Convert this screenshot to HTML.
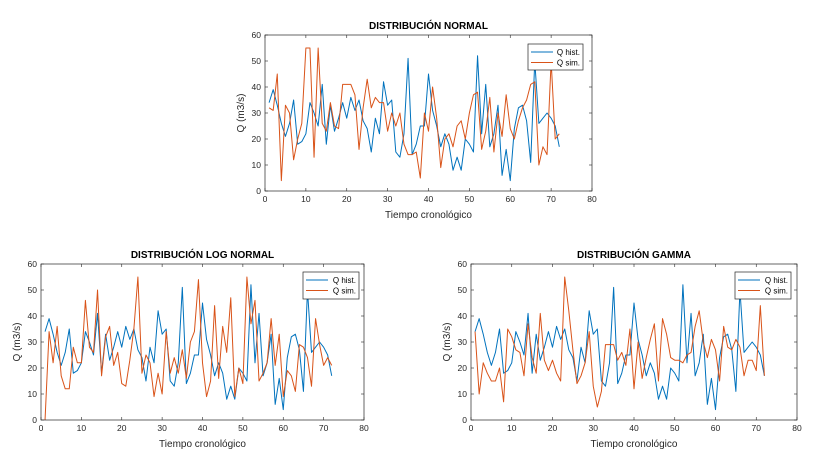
<!DOCTYPE html>
<html><head><meta charset="utf-8"><style>
html,body{margin:0;padding:0;background:#fff;}
svg{display:block;font-family:"Liberation Sans",sans-serif;}
</style></head><body>
<svg id="fig" width="815" height="472" viewBox="0 0 815 472"></svg>
<script>
const times = Array.from({length:72},(_,i)=>i+1);
const qHist = [34,39,33,26,21,26,35,18,19,22,34,30,25,41,18,33,23,28,34,28,36,31,35,27,24,15,28,22,42,33,35,15,13,22,51,14,18,25,25,45,31,25,17,22,18,8,13,8,20,18,15,52,22,41,17,22,33,6,16,4,24,32,33,27,11,50,26,28,30,28,25,17];
const qSimNormal = [32,31,45,4,33,30,12,20,26,55,55,13,55,26,23,34,25,24,41,41,41,37,16,32,43,32,36,34,34,23,30,25,30,18,14,14,15,5,30,23,40,28,9,20,22,17,25,27,20,30,37,38,16,23,36,15,30,21,37,24,20,27,32,35,41,42,10,17,14,50,20,22];
const qSimLog = [0,34,22,36,17,12,12,28,22,22,46,28,26,50,17,32,36,21,26,14,13,23,35,55,18,25,22,9,18,10,34,18,24,18,27,16,30,34,54,22,9,15,44,16,36,26,47,9,20,14,55,37,46,15,18,22,39,21,33,9,19,17,11,29,28,24,13,39,29,21,24,21];
const qSimGamma = [34,10,22,18,15,15,20,7,35,32,27,26,17,37,24,18,41,23,19,23,18,15,55,42,27,14,17,22,34,13,5,11,29,29,29,23,26,21,35,12,30,16,24,31,37,15,39,33,24,23,23,22,25,26,36,42,30,24,31,27,15,36,28,27,31,28,17,23,23,19,44,17];
const xTicks = [0,10,20,30,40,50,60,70,80];
const yTicks = [0,10,20,30,40,50,60];

const NS="http://www.w3.org/2000/svg";
const svg=document.getElementById('fig');
function mk(tag,attrs,parent){const e=document.createElementNS(NS,tag);for(const k in attrs)e.setAttribute(k,attrs[k]);(parent||svg).appendChild(e);return e;}

function panel(key,title,L,R,T,B,sim,leg){
  const g=mk('g',{});
  
  
  const xs=v=>L+(v-0)/(80-0)*(R-L);
  const ys=v=>B-(v-0)/(60-0)*(B-T);
  const bg=mk('rect',{x:L,y:T,width:R-L,height:B-T,fill:'#fff',stroke:'none'},g);
  
  
  // ticks
  xTicks.forEach(t=>{
    const x=xs(t);
    mk('line',{x1:x,y1:B,x2:x,y2:B-3,stroke:'#262626','stroke-width':0.6},g);
    mk('line',{x1:x,y1:T,x2:x,y2:T+3,stroke:'#262626','stroke-width':0.6},g);
    const tx=mk('text',{x:x,y:B+11,'font-size':8.5,fill:'#262626','text-anchor':'middle'},g);
    tx.textContent=t;
    
    
  });
  yTicks.forEach(t=>{
    const y=ys(t);
    mk('line',{x1:L,y1:y,x2:L+3,y2:y,stroke:'#262626','stroke-width':0.6},g);
    mk('line',{x1:R,y1:y,x2:R-3,y2:y,stroke:'#262626','stroke-width':0.6},g);
    const tx=mk('text',{x:L-4,y:y+3,'font-size':8.5,fill:'#262626','text-anchor':'end'},g);
    tx.textContent=t;
    
    
  });
  const series=[[qHist,'#0072BD','hist'],[sim,'#D95319','sim']];
  series.forEach(([arr,col,nm])=>{
    const pts=arr.map((v,i)=>xs(times[i]).toFixed(2)+','+ys(v).toFixed(2)).join(' ');
    const pl=mk('polyline',{points:pts,fill:'none',stroke:col,'stroke-width':1,'stroke-linejoin':'round'},g);
    
    
  });
  const fr=mk('rect',{x:L,y:T,width:R-L,height:B-T,fill:'none',stroke:'#262626','stroke-width':0.7},g);
  
  
  const ti=mk('text',{x:(L+R)/2,y:T-6,'font-size':10,'font-weight':'bold',fill:'#000','text-anchor':'middle'},g);
  ti.textContent=title;
  
  
  const xl=mk('text',{x:(L+R)/2,y:B+27,'font-size':10,fill:'#262626','text-anchor':'middle'},g);
  xl.textContent='Tiempo cronológico';
  
  
  const cy=(T+B)/2, cx=L-21;
  const yl=mk('text',{x:cx,y:cy,'font-size':10,fill:'#262626','text-anchor':'middle',transform:'rotate(-90 '+cx+' '+cy+')'},g);
  yl.textContent='Q (m3/s)';
  
  
  // legend
  const [lx,ly,lw,lh]=leg;
  const lg=mk('g',{},g);
  
  
  mk('rect',{x:lx,y:ly,width:lw,height:lh,fill:'#fff',stroke:'#262626','stroke-width':0.7},lg);
  [['Q hist.','#0072BD'],['Q sim.','#D95319']].forEach(([lab,col],i)=>{
    const yy=ly+8+i*10.5;
    mk('line',{x1:lx+3,y1:yy,x2:lx+25,y2:yy,stroke:col,'stroke-width':1},lg);
    const t=mk('text',{x:lx+lw-3,y:yy+3,'font-size':8,fill:'#000','text-anchor':'end'},lg);
    t.textContent=lab;
    
    
  });
}
panel('normal','DISTRIBUCIÓN NORMAL',265,592,35,191,qSimNormal,[528,44,55,26]);
panel('lognormal','DISTRIBUCIÓN LOG NORMAL',41,364,264,420,qSimLog,[303,272,56,27]);
panel('gamma','DISTRIBUCIÓN GAMMA',471,797,264,420,qSimGamma,[735,272,56,27]);
</script>
</body></html>
